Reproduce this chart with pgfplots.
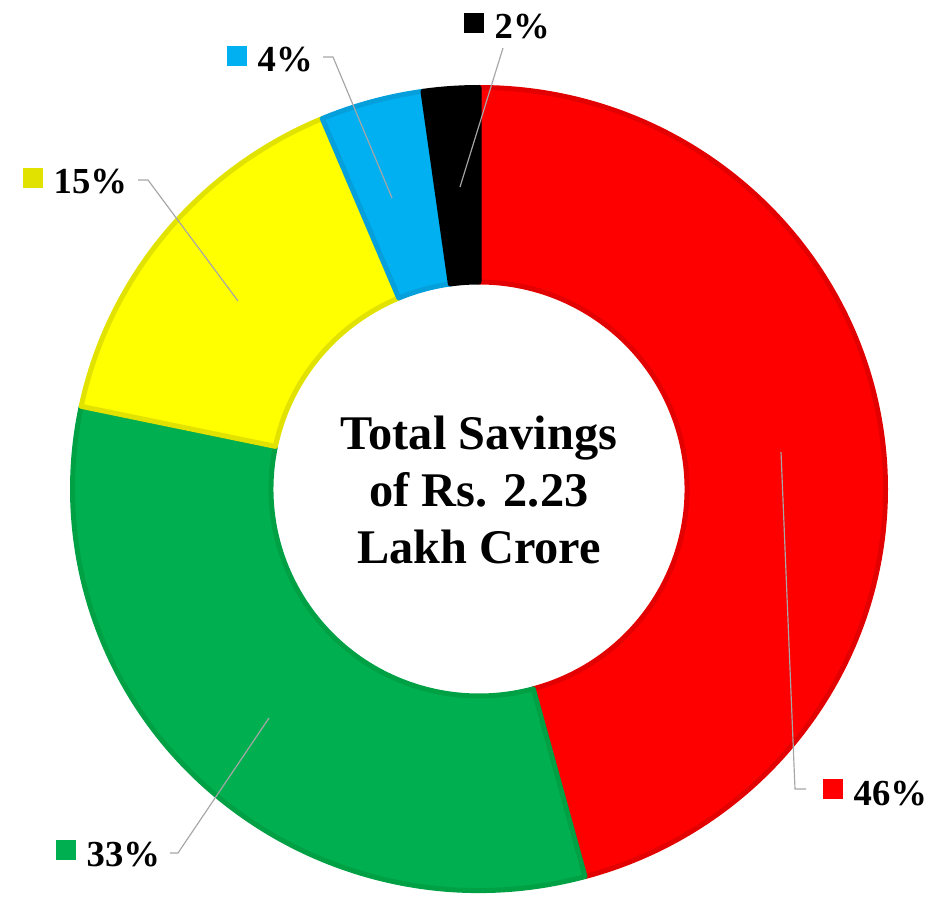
\documentclass[border=0pt]{standalone}
\usepackage{pgfplots}
\pgfplotsset{compat=1.18}
\usepackage{pgfplotstable}
\usetikzlibrary{calc}
\usepackage{fontspec}
\setmainfont{Liberation Serif}
\definecolor{cRed}{HTML}{FF0000}
\definecolor{cRedB}{HTML}{E30000}
\definecolor{cGreen}{HTML}{00B050}
\definecolor{cGreenB}{HTML}{00A044}
\definecolor{cYellow}{HTML}{FFFF00}
\definecolor{cYellowB}{HTML}{E2E200}
\definecolor{cBlue}{HTML}{00B0F0}
\definecolor{cBlueB}{HTML}{05A0DC}
\definecolor{cBlack}{HTML}{000000}
\definecolor{leader}{HTML}{A6A6A6}

\pgfplotstableread{
label share
Red 45.8
Green 32.5
Yellow 15.4
Blue 4.1
Black 2.2
}\slicetable

\newcommand\getshare[2]{\pgfplotstablegetelem{#1}{share}\of\slicetable\global\let#2\pgfplotsretval}
\newcommand\slice[4]{%
  \filldraw[fill=#3, draw=#4, line width=1.5pt, line join=round]
   ($(axis cs:479,489)+(#1:121.95pt and 120.45pt)$) arc[start angle=#1, end angle=#2, x radius=121.95pt, y radius=120.45pt]
   -- ($(axis cs:479,489)+(#2:62.4pt and 62.1pt)$) arc[start angle=#2, end angle=#1, x radius=62.4pt, y radius=62.1pt] -- cycle;}
\newcommand\lab[2]{\raisebox{1.8pt}{\textcolor{#1}{\rule{6pt}{6pt}}}\hspace{3.3pt}#2}

\begin{document}
\begin{tikzpicture}
\getshare{0}{\sA}\getshare{1}{\sB}\getshare{2}{\sC}\getshare{3}{\sD}\getshare{4}{\sE}
\pgfmathsetmacro\tA{90}
\pgfmathsetmacro\tB{\tA-3.6*\sA}
\pgfmathsetmacro\tC{\tB-3.6*\sB}
\pgfmathsetmacro\tD{\tC-3.6*\sC}
\pgfmathsetmacro\tE{\tD-3.6*\sD}
\pgfmathsetmacro\tF{\tE-3.6*\sE}
\begin{axis}[x=0.3pt, y=0.3pt, xmin=0, xmax=930, ymin=0, ymax=901,
  y dir=reverse, hide axis, clip=false, scale only axis]
\coordinate (bbA) at (axis cs:0,0);
\coordinate (bbB) at (axis cs:930,901);
\slice{\tA}{\tB}{cRed}{cRedB}
\slice{\tB}{\tC}{cGreen}{cGreenB}
\slice{\tC}{\tD}{cYellow}{cYellowB}
\slice{\tD}{\tE}{cBlue}{cBlueB}
\slice{\tE}{\tF}{cBlack}{cBlack}
% leader lines
\draw[leader, line width=0.35pt] (axis cs:781,452) -- (axis cs:795,789) -- (axis cs:806,789);
\draw[leader, line width=0.35pt] (axis cs:269,718) -- (axis cs:178,853) -- (axis cs:170,853);
\draw[leader, line width=0.35pt] (axis cs:238,301) -- (axis cs:148,180) -- (axis cs:138,180);
\draw[leader, line width=0.35pt] (axis cs:392,198) -- (axis cs:333,57) -- (axis cs:323,57);
\draw[leader, line width=0.35pt] (axis cs:460,187) -- (axis cs:503,48);
% labels
\tikzset{lbl/.style={anchor=base west, inner sep=0pt, font=\fontsize{11}{12}\selectfont\bfseries}}
\node[lbl] at (axis cs:822,805) {\lab{cRed}{46\%}};
\node[lbl] at (axis cs:55,866) {\lab{cGreen}{33\%}};
\node[lbl] at (axis cs:22,194) {\lab{cYellowB}{15\%}};
\node[lbl] at (axis cs:226,72) {\lab{cBlue}{4\%}};
\node[lbl] at (axis cs:463,39) {\lab{cBlack}{2\%}};
\node[align=center, inner sep=0pt, font=\fontsize{14.5}{17}\selectfont\bfseries] at (axis cs:479,490) {Total Savings\\of Rs. 2.23\\Lakh Crore};
\end{axis}
\pgfresetboundingbox
\useasboundingbox (bbA) rectangle (bbB);
\end{tikzpicture}
\end{document}
